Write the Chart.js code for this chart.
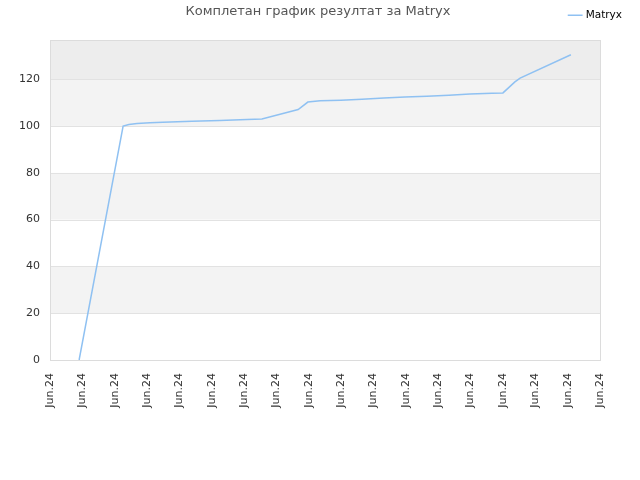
<!DOCTYPE html>
<html>
<head>
<meta charset="utf-8">
<script src="https://cdn.jsdelivr.net/npm/chart.js@4/dist/chart.umd.min.js"></script>
<style>
  html, body { margin: 0; padding: 0; background: #fff; }
  #wrap { width: 640px; height: 480px; }
</style>
</head>
<body>
<div id="wrap"><canvas id="myChart" width="640" height="480"></canvas></div>
<script>
const chartTitle = 'Комплетан график резултат за Matryx';
const seriesName = 'Matryx';
// x positions measured in tick steps (0 = first Jun.24 tick)
const xVals = [0.90, 2.26, 2.44, 2.69, 3.09, 3.49, 4.39, 5.25, 6.09, 6.55, 7.20, 7.67, 7.97, 8.35, 8.99, 9.64, 10.32, 10.97, 11.65, 12.33, 12.98, 13.66, 14.00, 14.37, 14.53, 16.10];
const yVals = [0, 99.9, 100.6, 101.0, 101.3, 101.6, 102.0, 102.3, 102.7, 103.0, 105.3, 107.0, 110.2, 110.7, 111.0, 111.4, 111.9, 112.3, 112.7, 113.1, 113.6, 114.0, 114.1, 118.8, 120.4, 130.4];
const tickLabels = ['Jun.24', 'Jun.24', 'Jun.24', 'Jun.24', 'Jun.24', 'Jun.24', 'Jun.24', 'Jun.24', 'Jun.24',
                    'Jun.24', 'Jun.24', 'Jun.24', 'Jun.24', 'Jun.24', 'Jun.24', 'Jun.24', 'Jun.24', 'Jun.24'];
const yMax = 136.7;
const yStep = 20;

const points = xVals.map((x, i) => ({ x: x, y: yVals[i] }));

// striped background, frame and title
const backdrop = {
  id: 'backdrop',
  afterInit(chart) {
    // legend shares the title row, keep plot top at 40px
    const lg = chart.legend;
    const fit = lg.fit;
    lg.fit = function() { fit.call(this); this.height = 40; };
  },
  beforeDatasetsDraw(chart) {
    const { ctx, chartArea: a, scales: { y } } = chart;
    ctx.save();
    const ticks = y.ticks.map(t => t.value);
    for (let i = 0; i < ticks.length; i++) {
      const lo = ticks[i];
      const hi = i + 1 < ticks.length ? ticks[i + 1] : y.max;
      let col = (i % 2 == 1) ? '#f3f3f3' : '#ffffff';
      if (i == ticks.length - 1) col = '#ededed';
      ctx.fillStyle = col;
      const top = y.getPixelForValue(hi), bot = y.getPixelForValue(lo);
      ctx.fillRect(a.left, top, a.right - a.left, bot - top);
    }
    ctx.strokeStyle = '#e2e2e2';
    ctx.lineWidth = 1;
    ticks.forEach(v => {
      const py = Math.round(y.getPixelForValue(v)) + 0.5;
      ctx.beginPath(); ctx.moveTo(a.left, py); ctx.lineTo(a.right, py); ctx.stroke();
    });
    ctx.strokeStyle = '#dcdcdc';
    ctx.strokeRect(Math.round(a.left) + 0.5, Math.round(a.top) + 0.5, Math.round(a.right - a.left), Math.round(a.bottom - a.top));
    ctx.restore();
  },
  afterDraw(chart) {
    const ctx = chart.ctx;
    ctx.save();
    ctx.font = '13px "DejaVu Sans", sans-serif';
    ctx.fillStyle = '#555';
    ctx.textAlign = 'center';
    ctx.textBaseline = 'middle';
    ctx.fillText(chartTitle, 318, 12);
    ctx.restore();
  }
};

new Chart(document.getElementById('myChart'), {
  type: 'line',
  data: {
    datasets: [{
      label: seriesName,
      data: points,
      borderColor: '#8fc1f2',
      backgroundColor: '#8fc1f2',
      borderWidth: 1.5,
      pointRadius: 0,
      tension: 0,
      fill: false
    }]
  },
  options: {
    responsive: false,
    animation: false,
    layout: { padding: { top: 0, left: 0, bottom: 0, right: 8 } },
    plugins: {
      title: { display: false },
      tooltip: { enabled: false },
      legend: {
        position: 'top',
        align: 'end',
        labels: {
          usePointStyle: true,
          pointStyle: 'line',
          boxWidth: 11,
          color: '#000',
          font: { size: 10.5, family: '"DejaVu Sans", sans-serif' },
          padding: 10
        }
      }
    },
    scales: {
      x: {
        type: 'linear',
        min: 0,
        max: tickLabels.length - 1,
        ticks: {
          stepSize: 1,
          autoSkip: false,
          minRotation: 90,
          maxRotation: 90,
          padding: 13,
          color: '#333',
          font: { size: 11, family: '"DejaVu Sans", sans-serif' },
          callback: (v) => tickLabels[v]
        },
        grid: { display: false, drawTicks: false },
        border: { display: false },
        afterFit: (s) => { s.height = 120; }
      },
      y: {
        min: 0,
        max: yMax,
        afterBuildTicks: (s) => { s.ticks = s.ticks.filter(t => t.value % yStep == 0); },
        ticks: {
          stepSize: yStep,
          padding: 10,
          color: '#333',
          font: { size: 11, family: '"DejaVu Sans", sans-serif' }
        },
        grid: { display: false, drawTicks: false },
        border: { display: false },
        afterFit: (s) => { s.width = 50; }
      },
      spacer: {
        position: 'right',
        display: true,
        ticks: { display: false },
        grid: { display: false, drawTicks: false },
        border: { display: false },
        afterFit: (s) => { s.width = 32; }
      }
    }
  },
  plugins: [backdrop]
});
</script>
</body>
</html>
